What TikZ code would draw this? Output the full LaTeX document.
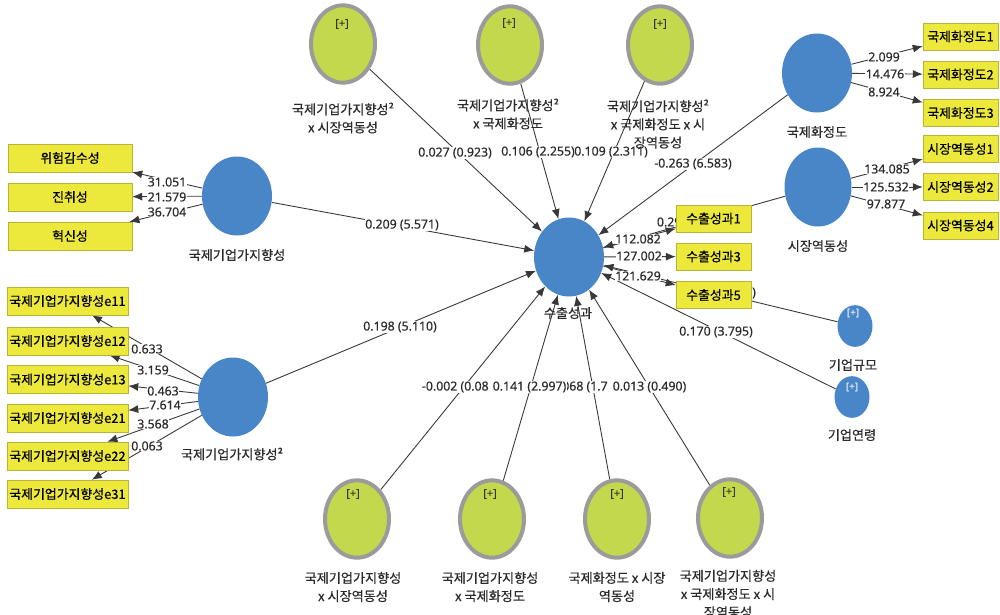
\documentclass[tikz,border=0pt]{standalone}
\usepackage{fontspec}
\setmainfont{Noto Sans CJK KR}[FakeBold=0.4]
\newfontfamily\numf{Noto Sans}[FakeBold=0.3]
\usetikzlibrary{shapes.geometric,arrows.meta}
\pgfdeclarelayer{back}
\pgfdeclarelayer{bg}
\pgfdeclarelayer{lbl}
\pgfsetlayers{back,bg,lbl,main}
\definecolor{cblue}{HTML}{4886C8}
\definecolor{cgreen}{HTML}{C3D84C}
\definecolor{cgray}{HTML}{9B9B9B}
\definecolor{cyel}{HTML}{EDE83C}
\definecolor{cyelb}{HTML}{B9B437}
\definecolor{ctext}{HTML}{2A2A2A}
\definecolor{cline}{HTML}{383838}
\begin{document}
\begin{tikzpicture}[x=0.3mm,y=-0.3mm,
  lv/.style={ellipse,fill=cblue,draw=none,minimum width=21mm,minimum height=23.7mm,inner sep=0pt},
  smlv/.style={ellipse,fill=cblue,draw=none,minimum width=10.5mm,minimum height=12.5mm,inner sep=0pt},
  modv/.style={ellipse,fill=cgreen,draw=cgray,line width=1.2mm,minimum width=19.2mm,minimum height=23.2mm,inner sep=0pt},
  indbox/.style={rectangle,fill=cyel,draw=cyelb,line width=0.4pt,inner sep=0pt,text=black,font=\fontsize{11}{12}\selectfont},
  indL/.style={indbox,minimum width=37.2mm,minimum height=8.4mm},
  indM/.style={indbox,minimum width=36.3mm,minimum height=8.4mm},
  indR/.style={indbox,minimum width=22.5mm,minimum height=8.1mm},
  lvlab/.style={text=ctext,align=center,inner sep=0pt,font=\fontsize{11.2}{15.5}\selectfont},
  plab/.style={fill=white,inner sep=0.6pt,text=ctext,font=\numf\fontsize{10.5}{12}\selectfont},
  plus/.style={inner sep=0pt,text=ctext!85!olive,font=\numf\fontsize{9.5}{9.5}\selectfont},
  plusw/.style={inner sep=0pt,text=white!85!cblue,font=\numf\fontsize{8.5}{8.5}\selectfont},
  conn/.style={draw=cline,line width=0.75pt,-{Latex[length=3mm,width=2.4mm]}}
]
\begin{pgfonlayer}{back}
\fill[white] (0,0) rectangle (1000,614);
\end{pgfonlayer}
\useasboundingbox (0,0) rectangle (1000,614);

% latent variables
\node[lv] (C) at (569,257) {};
\node[lv] (IE) at (237,196) {};
\node[lv] (IE2) at (233,397) {};
\node[lv] (IN) at (817,73) {};
\node[lv,minimum width=20.1mm] (MD) at (818,187) {};
\node[smlv] (SZ) at (855,326) {};
\node[smlv] (AG) at (852,397) {};

% moderators
\node[modv] (M1) at (343,44) {};
\node[modv] (M2) at (510,45) {};
\node[modv] (M3) at (660,45) {};
\node[modv] (B1) at (357,519) {};
\node[modv] (B2) at (492,519) {};
\node[modv] (B3) at (617,519) {};
\node[modv] (B4) at (730,518) {};

% [+] marks
\node[plus] (M1p) at (342,24) {[+]};
\node[plus] (M2p) at (509,23) {[+]};
\node[plus] (M3p) at (660,24) {[+]};
\node[plus] (B1p) at (353,494) {[+]};
\node[plus] (B2p) at (490,494) {[+]};
\node[plus] (B3p) at (617,494) {[+]};
\node[plus] (B4p) at (729,492) {[+]};
\node[plusw] (SZp) at (853,313) {[+]};
\node[plusw] (AGp) at (852,387) {[+]};

% labels of latent variables
\node[lvlab] (Cl) at (568,313) {수출성과};
\node[lvlab] (IEl) at (237,255) {국제기업가지향성};
\node[lvlab] (IE2l) at (232,454) {국제기업가지향성²};
\node[lvlab] (INl) at (817,132) {국제화정도};
\node[lvlab] (MDl) at (818,246) {시장역동성};
\node[lvlab] (SZl) at (853,365) {기업규모};
\node[lvlab] (AGl) at (852,435) {기업연령};
\node[lvlab] (M1l) at (343,118) {국제기업가지향성²\\x 시장역동성};
\node[lvlab] (M2l) at (508,114) {국제기업가지향성²\\x 국제화정도};
\node[lvlab] (M3l) at (658,124) {국제기업가지향성²\\x 국제화정도 x 시\\장역동성};
\node[lvlab] (B1l) at (353,587) {국제기업가지향성\\x 시장역동성};
\node[lvlab] (B2l) at (490,587) {국제기업가지향성\\x 국제화정도};
\node[lvlab] (B3l) at (617,587) {국제화정도 x 시장\\역동성};
\node[lvlab] (B4l) at (728,594) {국제기업가지향성\\x 국제화정도 x 시\\장역동성};

% indicators
\node[indL] (r1) at (70,158) {위험감수성};
\node[indL] (r2) at (70,197) {진취성};
\node[indL] (r3) at (70,236) {혁신성};
\node[indM] (e11) at (67.5,301) {국제기업가지향성e11};
\node[indM] (e12) at (67.5,341) {국제기업가지향성e12};
\node[indM] (e13) at (67.5,379.5) {국제기업가지향성e13};
\node[indM] (e21) at (67.5,418) {국제기업가지향성e21};
\node[indM] (e22) at (67.5,456) {국제기업가지향성e22};
\node[indM] (e31) at (67.5,494) {국제기업가지향성e31};
\node[indR] (n1) at (960.5,36.5) {국제화정도1};
\node[indR] (n2) at (960.5,74.5) {국제화정도2};
\node[indR] (n3) at (960.5,113) {국제화정도3};
\node[indR] (d1) at (960.5,149) {시장역동성1};
\node[indR] (d2) at (960.5,187) {시장역동성2};
\node[indR] (d4) at (960.5,225.5) {시장역동성4};
\node[indR] (y1) at (713.5,218.5) {수출성과1};
\node[indR] (y3) at (713.5,256.5) {수출성과3};
\node[indR] (y5) at (713.5,295) {수출성과5};

% connectors
\begin{pgfonlayer}{bg}
\draw[conn] (IE) -- (r1);
\draw[conn] (IE) -- (r2);
\draw[conn] (IE) -- (r3);
\draw[conn] (IE2) -- (e11);
\draw[conn] (IE2) -- (e12);
\draw[conn] (IE2) -- (e13);
\draw[conn] (IE2) -- (e21);
\draw[conn] (IE2) -- (e22);
\draw[conn] (IE2) -- (e31);
\draw[conn] (IN) -- (n1);
\draw[conn] (IN) -- (n2);
\draw[conn] (IN) -- (n3);
\draw[conn] (MD) -- (d1);
\draw[conn] (MD) -- (d2);
\draw[conn] (MD) -- (d4);
\draw[conn] (C) -- (y1);
\draw[conn] (C) -- (y3);
\draw[conn] (C) -- (y5);
\draw[conn] (IE) -- (C);
\draw[conn] (IE2) -- (C);
\draw[conn] (IN) -- (C);
\draw[conn] (MD) -- (C);
\draw[conn] (SZ) -- (C);
\draw[conn] (AG) -- (C);
\draw[conn] (M1) -- (C);
\draw[conn] (M2) -- (C);
\draw[conn] (M3) -- (C);
\draw[conn] (B1) -- (C);
\draw[conn] (B2) -- (C);
\draw[conn] (B3) -- (C);
\draw[conn] (B4) -- (C);
\end{pgfonlayer}

% connector labels
\begin{pgfonlayer}{lbl}
\node[plab] (l31) at (167,182) {31.051};
\node[plab] (l21) at (167,197) {21.579};
\node[plab] (l36) at (167,212) {36.704};
\node[plab] (l0633) at (147,349) {0.633};
\node[plab] (l3159) at (153,370) {3.159};
\node[plab] (l0463) at (163,391) {0.463};
\node[plab] (l7614) at (165,405) {7.614};
\node[plab] (l3568) at (153,424) {3.568};
\node[plab] (l0063) at (147,446) {0.063};
\node[plab] (l2099) at (884,57) {2.099};
\node[plab] (l14476) at (885,74) {14.476};
\node[plab] (l8924) at (884,92) {8.924};
\node[plab] (l134) at (887,169) {134.085};
\node[plab] (l125) at (886,187) {125.532};
\node[plab] (l97) at (886,204) {97.877};
\node[plab] (l112) at (638,239) {112.082};
\node[plab] (l127) at (639,256) {127.002};
\node[plab] (l121) at (638,276) {121.629};
\node[plab] (pIE) at (402,225) {0.209 (5.571)};
\node[plab] (pIE2) at (400,327) {0.198 (5.110)};
\node[plab] (pM1) at (455,153) {0.027 (0.923)};
\node[plab] (pM3) at (611,152) {0.109 (2.311)};
\node[plab] (pM2) at (538,152) {0.106 (2.255)};
\node[plab] (pIN) at (693,164) {-0.263 (6.583)};
\node[plab,anchor=west] (pMD) at (656,222) {0.29};
\node[plab] (pSZ) at (754,293) {)};
\node[plab] (pAG) at (716,332) {0.170 (3.795)};
\node[plab,anchor=west] (pB1) at (421,387) {-0.002 (0.08};
\node[plab,anchor=west] (pB3) at (551,387) {0.068 (1.7};
\node[plab] (pB2) at (529.5,387) {0.141 (2.997)};
\node[plab] (pB4) at (649.5,387) {0.013 (0.490)};
\end{pgfonlayer}
\end{tikzpicture}
\end{document}
